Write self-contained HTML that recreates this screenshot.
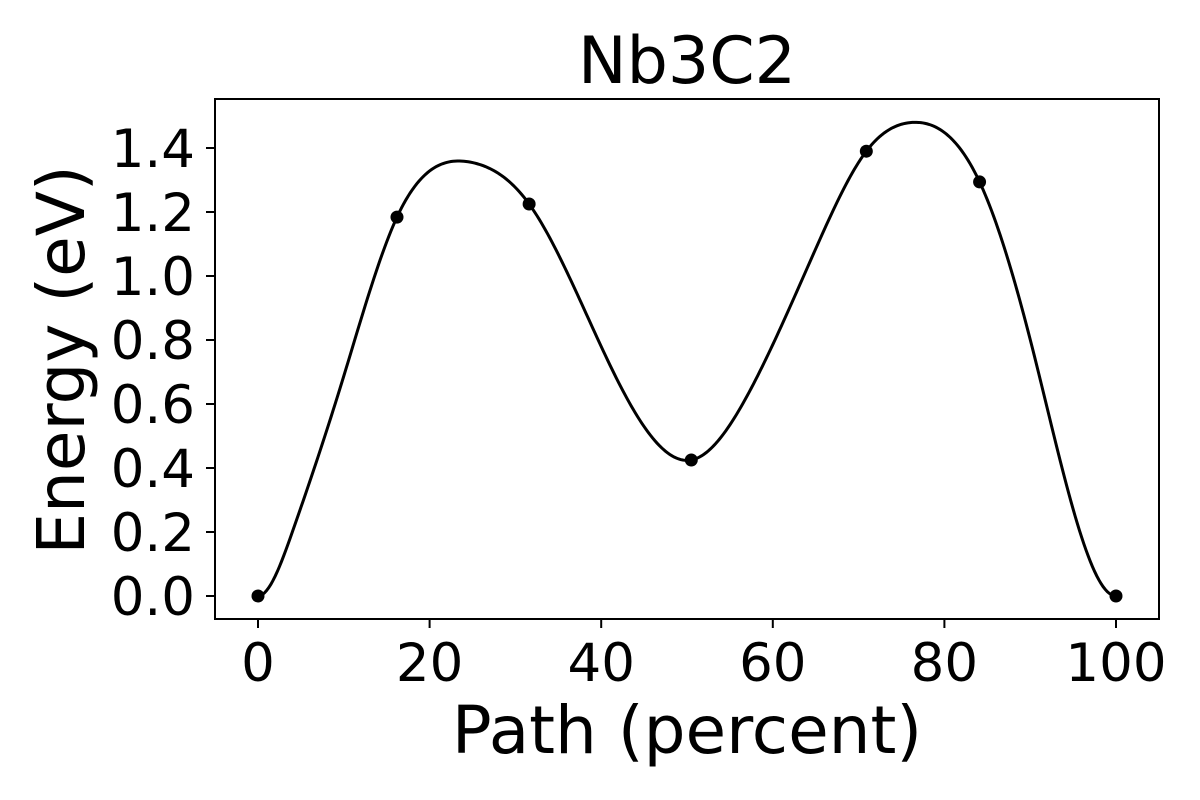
<!DOCTYPE html>
<html><head><meta charset="utf-8"><style>
html,body{margin:0;padding:0;background:#fff;}
svg{display:block;font-family:"DejaVu Sans","Liberation Sans",sans-serif;}
</style></head><body>
<svg id="chart" width="1200" height="800">
<text x="687" y="83" font-size="65" text-anchor="middle">Nb3C2</text>
<rect x="215" y="99" width="944" height="520" fill="none" stroke="#000" stroke-width="2"/>
<g id="xt"></g>
<g id="yt"></g>
<text x="687" y="753" font-size="66" text-anchor="middle">Path (percent)</text>
<text transform="translate(84,360) rotate(-90)" font-size="66" text-anchor="middle">Energy (eV)</text>
<path id="curve" fill="none" stroke="#000" stroke-width="3"/>
<g id="pts"></g>
</svg>
<script>
const xTicks=[0,20,40,60,80,100];
const yTicks=[0.0,0.2,0.4,0.6,0.8,1.0,1.2,1.4];
const imageX=[0,16.2,31.6,50.5,70.9,84.1,100];
const imageE=[0,1.184,1.225,0.425,1.39,1.294,0];
const curveX=[0,4,9.8,16.2,24.7,31.6,41.6,50.5,57,65.5,70.9,76.3,84.1,90.3,95.8,100];
const curveE=[0,0.2,0.67,1.184,1.356,1.225,0.69,0.425,0.625,1.115,1.39,1.48,1.294,0.77,0.2,0];
const sx=v=>258+v*8.58, sy=v=>596-v*320;
const NS="http://www.w3.org/2000/svg";
function mk(t,a,p){const e=document.createElementNS(NS,t);for(const k in a)e.setAttribute(k,a[k]);p.appendChild(e);return e;}
const xt=document.getElementById('xt'),yt=document.getElementById('yt');
xTicks.forEach(v=>{
 const l=mk('line',{x1:sx(v),x2:sx(v),y1:619,y2:628,stroke:'#000','stroke-width':2},xt);
 
 
 const t=mk('text',{x:sx(v),y:681,'font-size':53,'text-anchor':'middle'},xt);
 t.textContent=v;
 
 
});
yTicks.forEach(v=>{
 const l=mk('line',{x1:206,x2:215,y1:sy(v),y2:sy(v),stroke:'#000','stroke-width':2},yt);
 
 
 const t=mk('text',{x:195,y:sy(v)+19,'font-size':53,'text-anchor':'end'},yt);
 t.textContent=v.toFixed(1);
 
 
});
// clamped cubic spline (zero end slopes)
function spline(X,Y){
 const n=X.length,h=[],al=[],l=[1],mu=[0],z=[0],c=new Array(n).fill(0),b=[],dd=[];
 for(let i=0;i<n-1;i++)h[i]=X[i+1]-X[i];
 al[0]=3*(Y[1]-Y[0])/h[0];
 al[n-1]=-3*(Y[n-1]-Y[n-2])/h[n-2];
 for(let i=1;i<n-1;i++)al[i]=3/h[i]*(Y[i+1]-Y[i])-3/h[i-1]*(Y[i]-Y[i-1]);
 l[0]=2*h[0];mu[0]=0.5;z[0]=al[0]/l[0];
 for(let i=1;i<n-1;i++){l[i]=2*(X[i+1]-X[i-1])-h[i-1]*mu[i-1];mu[i]=h[i]/l[i];z[i]=(al[i]-h[i-1]*z[i-1])/l[i];}
 l[n-1]=h[n-2]*(2-mu[n-2]);z[n-1]=(al[n-1]-h[n-2]*z[n-2])/l[n-1];c[n-1]=z[n-1];
 for(let j=n-2;j>=0;j--){c[j]=z[j]-mu[j]*c[j+1];b[j]=(Y[j+1]-Y[j])/h[j]-h[j]*(c[j+1]+2*c[j])/3;dd[j]=(c[j+1]-c[j])/(3*h[j]);}
 return x=>{let j=0;while(j<n-2&&x>X[j+1])j++;const t=x-X[j];return Y[j]+b[j]*t+c[j]*t*t+dd[j]*t*t*t;};
}
const f=spline(curveX,curveE);
let d='';
for(let x=0;x<=100.0001;x+=0.25){d+=(d?'L':'M')+sx(x).toFixed(2)+','+sy(f(x)).toFixed(2);}
document.getElementById('curve').setAttribute('d',d);
const pts=document.getElementById('pts');
imageX.forEach((x,i)=>{
 const c=mk('circle',{cx:sx(x),cy:sy(imageE[i]),r:6.5,fill:'#000'},pts);
 
 
});
</script>
</body></html>
